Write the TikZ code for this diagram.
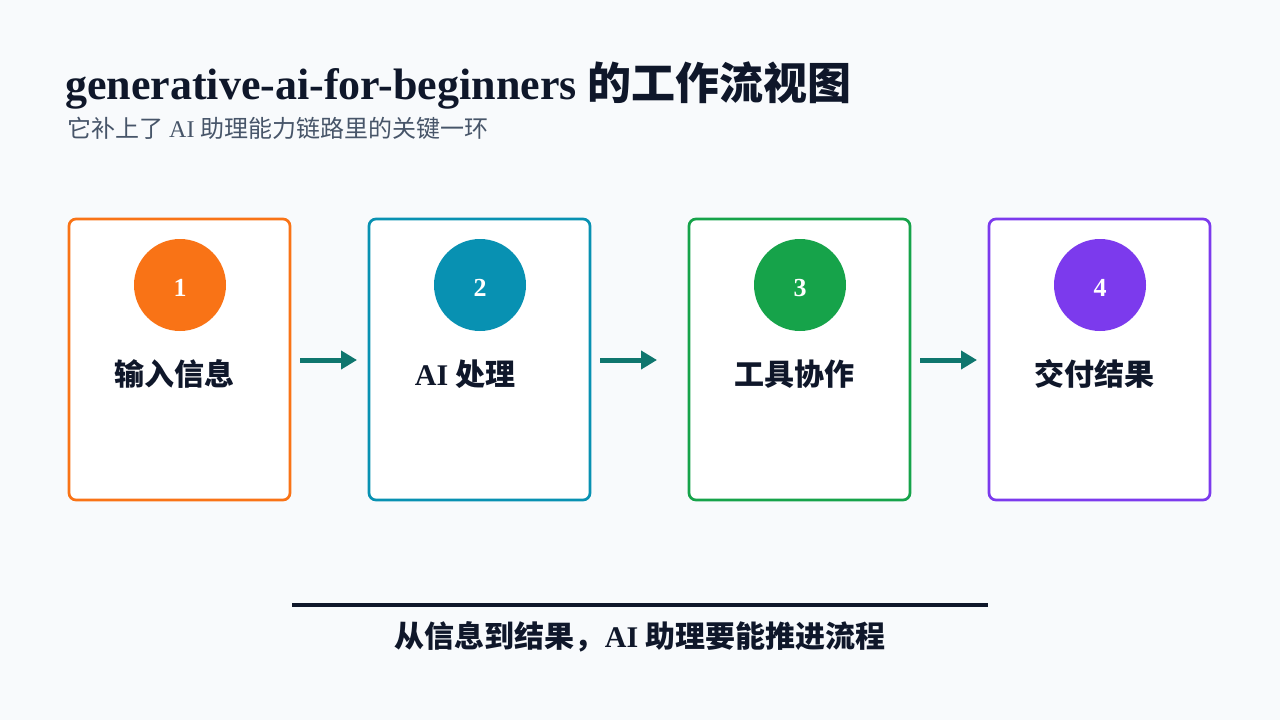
\documentclass[tikz,border=0pt]{standalone}
\usepackage{fontspec}
\setmainfont{Liberation Serif}
\newfontfamily\cjk{Noto Sans CJK SC}
\usetikzlibrary{arrows.meta}
\definecolor{bg}{HTML}{F8FAFC}
\definecolor{ink}{HTML}{0F172A}
\definecolor{sub}{HTML}{475569}
\definecolor{cA}{HTML}{F97316}
\definecolor{cB}{HTML}{0891B2}
\definecolor{cC}{HTML}{16A34A}
\definecolor{cD}{HTML}{7C3AED}
\definecolor{arr}{HTML}{0F766E}
\tikzset{
  card/.style={draw=#1, line width=2.7pt, fill=white, rounded corners=7pt, minimum width=221pt, minimum height=281pt, inner sep=0pt},
  badge/.style={circle, fill=#1, minimum size=92pt, inner sep=0pt},
  badgenum/.style={text=white, font=\fontsize{26}{30}\selectfont\bfseries, inner sep=0pt},
  steplabel/.style={text=ink, font=\fontsize{30}{34}\selectfont\bfseries\cjk, inner sep=0pt},
  flow/.style={draw=arr, line width=5pt, -{Triangle[length=16pt,width=18pt]}},
}
\begin{document}
\begin{tikzpicture}[x=1pt,y=-1pt]
\fill[bg] (0,0) rectangle (1280,720);
\useasboundingbox (0,0) rectangle (1280,720);
\node[anchor=base west, inner sep=0pt, text=ink, font=\fontsize{44}{52}\selectfont\bfseries] (title) at (65,99) {generative-ai-for-beginners {\cjk 的工作流视图}};
\node[anchor=base west, inner sep=0pt, text=sub, font=\fontsize{24}{28}\selectfont] (subtitle) at (67,137) {{\cjk 它补上了} AI {\cjk 助理能力链路里的关键一环}};

\node[card=cA] (c1) at (179.5,359.5) {};
\node[card=cB] (c2) at (479.5,359.5) {};
\node[card=cC] (c3) at (799.5,359.5) {};
\node[card=cD] (c4) at (1099.5,359.5) {};

\node[badge=cA] (b1) at (180,285) {};
\node[badge=cB] (b2) at (480,285) {};
\node[badge=cC] (b3) at (800,285) {};
\node[badge=cD] (b4) at (1100,285) {};
\node[badgenum] (n1) at (180,288) {1};
\node[badgenum] (n2) at (480,288) {2};
\node[badgenum] (n3) at (800,288) {3};
\node[badgenum] (n4) at (1100,288) {4};

\node[steplabel] (l1) at (174,374) {输入信息};
\node[steplabel] (l2) at (465,374) {{\rmfamily\bfseries AI} 处理};
\node[steplabel] (l3) at (794,374) {工具协作};
\node[steplabel] (l4) at (1094,374) {交付结果};

\coordinate (a1s) at (300,360); \coordinate (a1e) at (357,360);
\coordinate (a2s) at (600,360); \coordinate (a2e) at (657,360);
\coordinate (a3s) at (920,360); \coordinate (a3e) at (977,360);
\draw[flow] (a1s) -- (a1e);
\draw[flow] (a2s) -- (a2e);
\draw[flow] (a3s) -- (a3e);

\coordinate (rl) at (292,605); \coordinate (rr) at (988,605);
\draw[ink, line width=4pt] (rl) -- (rr);
\node[text=ink, font=\fontsize{30}{34}\selectfont\bfseries\cjk, inner sep=0pt] (tag) at (640,637) {从信息到结果，{\rmfamily\bfseries AI} 助理要能推进流程};
\end{tikzpicture}
\end{document}
